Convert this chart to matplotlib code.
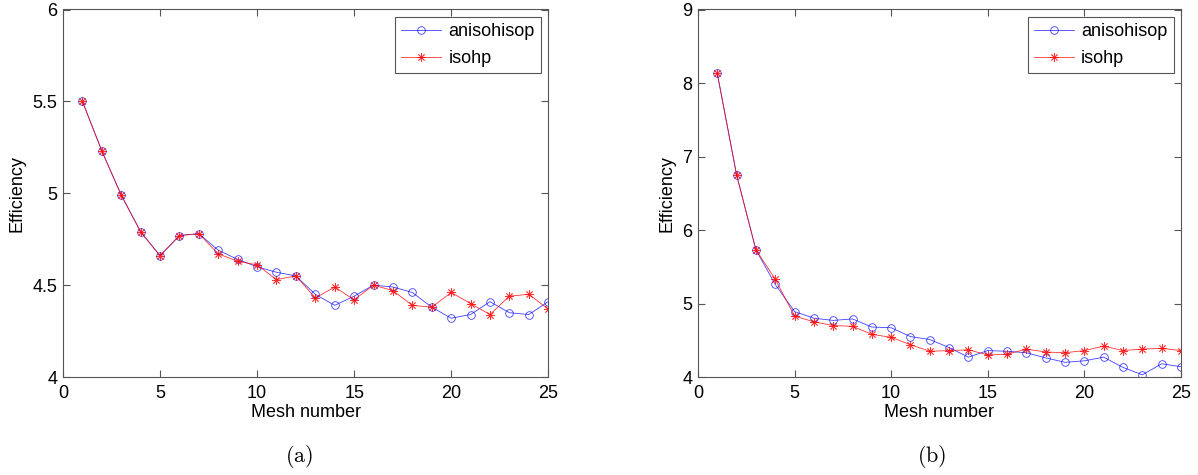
import matplotlib.pyplot as plt

plt.rcParams['font.family'] = ['Liberation Sans', 'DejaVu Sans']
plt.rcParams['mathtext.fontset'] = 'cm'

mesh = list(range(1, 26))

# (a) efficiency per mesh
a_anisohisop = [5.50, 5.23, 4.99, 4.79, 4.66, 4.77, 4.78, 4.69, 4.64, 4.60,
                4.57, 4.55, 4.45, 4.39, 4.44, 4.50, 4.49, 4.46, 4.38, 4.32,
                4.34, 4.41, 4.35, 4.34, 4.41]
a_isohp = [5.50, 5.23, 4.99, 4.79, 4.66, 4.77, 4.78, 4.67, 4.63, 4.61,
           4.53, 4.55, 4.43, 4.49, 4.42, 4.50, 4.47, 4.39, 4.38, 4.46,
           4.40, 4.34, 4.44, 4.45, 4.37]

# (b) efficiency per mesh
b_anisohisop = [8.13, 6.75, 5.73, 5.26, 4.89, 4.80, 4.77, 4.79, 4.68, 4.67,
                4.55, 4.51, 4.40, 4.27, 4.36, 4.35, 4.33, 4.26, 4.20, 4.22,
                4.27, 4.13, 4.03, 4.18, 4.14]
b_isohp = [8.13, 6.75, 5.73, 5.33, 4.83, 4.75, 4.70, 4.69, 4.58, 4.54,
           4.44, 4.35, 4.36, 4.37, 4.30, 4.31, 4.38, 4.34, 4.33, 4.36,
           4.42, 4.36, 4.38, 4.39, 4.36]

panels = [
    (a_anisohisop, a_isohp, (4, 6), [4, 4.5, 5, 5.5, 6], ["4", "4.5", "5", "5.5", "6"], "(a)"),
    (b_anisohisop, b_isohp, (4, 9), [4, 5, 6, 7, 8, 9], ["4", "5", "6", "7", "8", "9"], "(b)"),
]

fig = plt.figure(figsize=(11.98, 4.75), dpi=100)
axes_pos = [[0.0526, 0.2063, 0.405, 0.7737],
            [0.5826, 0.2063, 0.4032, 0.7737]]
caption_x = [0.250, 0.778]

spine_col = "#555555"
asterisk = (8, 2, 0)

for pos, (blue_y, red_y, ylim, yticks, ylabels, cap), cx in zip(axes_pos, panels, caption_x):
    ax = fig.add_axes(pos)
    ax.plot(mesh, blue_y, color="blue", lw=0.6, marker="o", ms=5.5, mfc="none",
            mew=0.6, label="anisohisop", alpha=0.75)
    ax.plot(mesh, red_y, color="red", lw=0.6, marker=asterisk, ms=6,
            mew=0.6, label="isohp", alpha=0.8)

    ax.set_xlim(0, 25)
    ax.set_ylim(*ylim)
    ax.set_xticks([0, 5, 10, 15, 20, 25])
    ax.set_yticks(yticks)
    ax.set_yticklabels(ylabels)
    ax.tick_params(direction="in", top=True, right=True, length=5,
                   width=0.8, color=spine_col, labelsize=13, pad=4)
    ax.tick_params(axis="x", pad=6)
    for s in ax.spines.values():
        s.set_color(spine_col)
        s.set_linewidth(0.8)

    ax.set_xlabel("Mesh number", fontsize=13, labelpad=1)
    ax.set_ylabel("Efficiency", fontsize=13, labelpad=5)

    leg = ax.legend(loc="upper right", fontsize=13, fancybox=False,
                    edgecolor=spine_col, framealpha=1, handlelength=2.2,
                    borderaxespad=0.4, handletextpad=0.4, labelspacing=0.55,
                    borderpad=0.35)
    leg.get_frame().set_linewidth(0.8)

    fig.text(cx, 1 - 456 / 475, r"$\mathrm{" + cap + "}$", fontsize=16,
             ha="center", va="center")

fig.savefig("out.png", dpi=100)
